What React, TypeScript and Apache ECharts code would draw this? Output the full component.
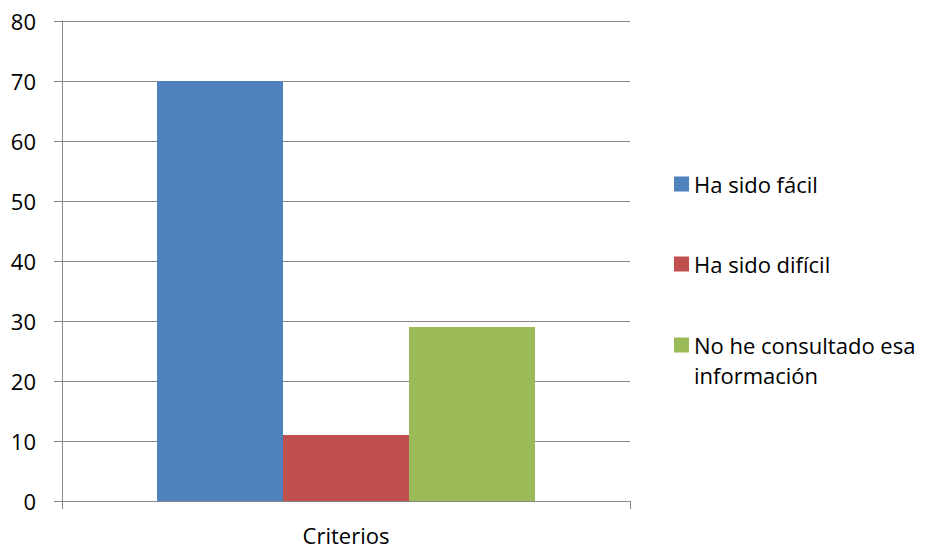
import React, { useEffect, useRef } from "react";
import * as echarts from "echarts";

const categories = ["Criterios"];
const seriesNames = ["Ha sido fácil", "Ha sido difícil", "No he consultado esa información"];
const legendLabels = ["Ha sido fácil", "Ha sido difícil", "\nNo he consultado esa\ninformación"];
const values = [[70], [11], [29]];
const colors = ["#4F81BD", "#C0504D", "#9BBB59"];
const yTicks = { min: 0, max: 80, interval: 10 };

const FONT = "'Open Sans', 'Liberation Sans', sans-serif";

export default function App() {
  const ref = useRef<HTMLDivElement>(null);
  useEffect(() => {
    if (!ref.current) return;
    const chart = echarts.init(ref.current, null, { renderer: "svg" });
    const legendTops = [169, 249, 300];
    const legends = seriesNames.map((n, i) => ({
      data: [n],
      left: 674,
      top: legendTops[i],
      orient: "vertical",
      padding: 0,
      itemWidth: 15,
      itemHeight: 15,
      icon: "rect",
      selectedMode: false,
      formatter: () => legendLabels[i],
      textStyle: {
        fontFamily: FONT,
        fontSize: 22,
        color: "#000",
        lineHeight: 30,
      },
    }));
    chart.setOption({
      animation: false,
      backgroundColor: "#fff",
      grid: { left: 62, right: 300, top: 21, bottom: 51, containLabel: false },
      legend: legends,
      xAxis: {
        type: "category",
        data: categories,
        boundaryGap: true,
        axisLine: { show: true, lineStyle: { color: "#868686", width: 1 } },
        axisTick: { show: true, length: 8, lineStyle: { color: "#868686" } },
        axisLabel: { fontFamily: FONT, fontSize: 22, color: "#000", margin: 23 },
      },
      yAxis: {
        type: "value",
        min: yTicks.min,
        max: yTicks.max,
        interval: yTicks.interval,
        axisLine: { show: true, lineStyle: { color: "#868686", width: 1 } },
        axisTick: { show: true, length: 8, lineStyle: { color: "#868686" } },
        axisLabel: { fontFamily: FONT, fontSize: 22, color: "#000", margin: 26 },
        splitLine: { show: true, lineStyle: { color: "#868686", width: 1 } },
      },
      series: seriesNames.map((n, i) => ({
        name: n,
        type: "bar",
        data: values[i],
        barWidth: 126,
        barGap: "0%",
        itemStyle: { color: colors[i] },
      })),
    });
    return () => chart.dispose();
  }, []);
  return (
    <div
      ref={ref}
      style={{ width: 930, height: 552, position: "absolute", left: 0, top: 0 }}
    />
  );
}
